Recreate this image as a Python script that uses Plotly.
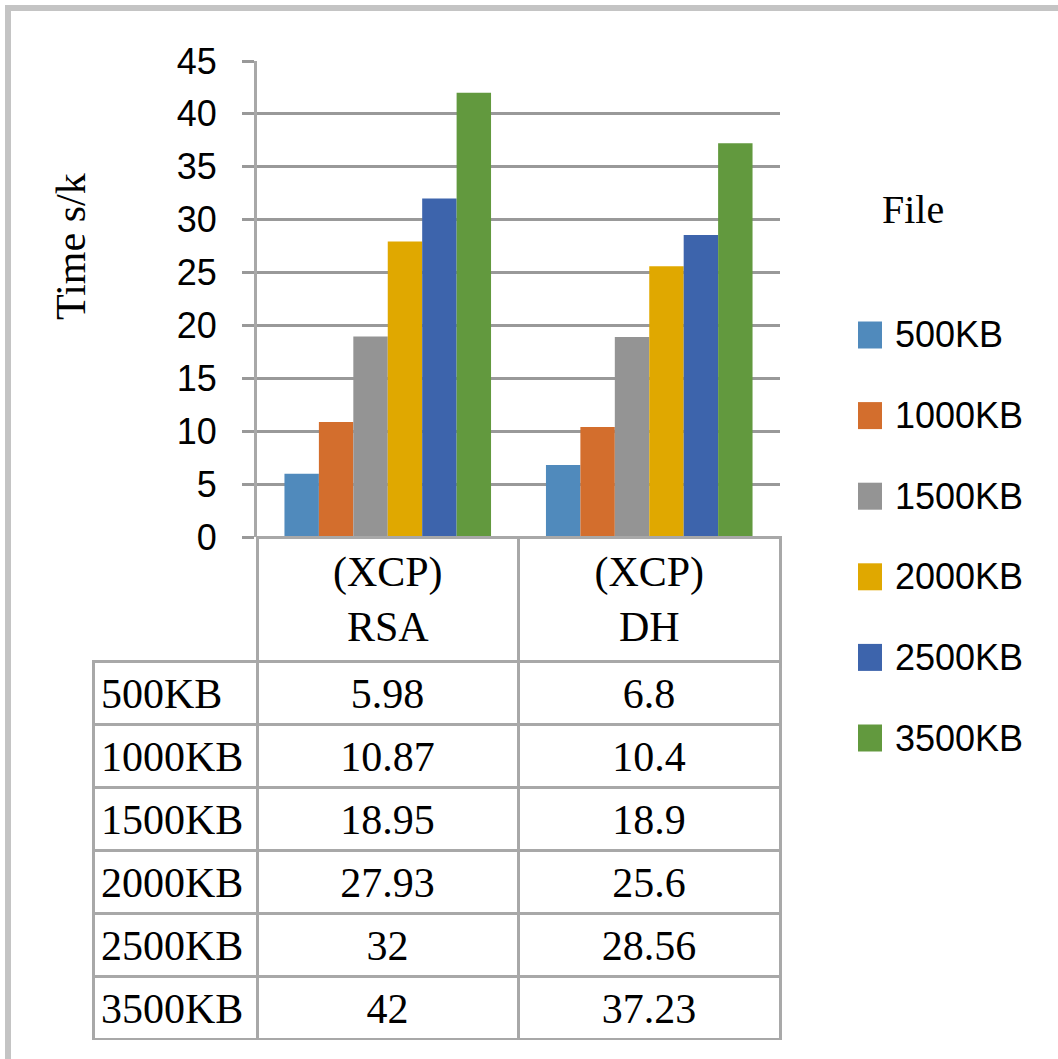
import plotly.graph_objects as go

# ---- data ----
categories = ["(XCP)<br>RSA", "(XCP)<br>DH"]
file_sizes = ["500KB", "1000KB", "1500KB", "2000KB", "2500KB", "3500KB"]
rsa_times = [5.98, 10.87, 18.95, 27.93, 32, 42]
dh_times = [6.8, 10.4, 18.9, 25.6, 28.56, 37.23]
y_ticks = [0, 5, 10, 15, 20, 25, 30, 35, 40, 45]

# ---- styling ----
colors = ["#508abc", "#d36e2d", "#949494", "#e0a800", "#3d64ac", "#62993e"]
W, H = 1058, 1059
GRID = "#999999"
TABLE_LINE = "#a8a8a8"
SERIF = "Liberation Serif, Times New Roman, serif"
SANS = "Liberation Sans, Arial, sans-serif"

TABLE_X = [93, 780]          # left / right edge of the data table (px)
TABLE_TOP, TABLE_BOTTOM = 537, 1041
TEXT_DROP = 7                # pushes cell text down to sit mid-row
COL_WIDTHS = [164, 261, 262]
HEADER_H, ROW_H = 124, 63


def px_x(x):
    return x / W


def px_y(y):
    return (H - y) / H


fig = go.Figure()

for i, size in enumerate(file_sizes):
    fig.add_trace(go.Bar(
        x=categories,
        y=[rsa_times[i], dh_times[i]],
        name=size,
        marker=dict(color=colors[i], line=dict(width=0)),
        showlegend=False,
        xaxis="x", yaxis="y",
    ))

table_values = [file_sizes,
                [f"{v:g}" for v in rsa_times],
                [f"{v:g}" for v in dh_times]]

# table grid underneath the plot area; its header row holds the category
# labels of the x axis, so the header cells stay transparent
fig.add_trace(go.Table(
    domain=dict(x=[px_x(TABLE_X[0]), px_x(TABLE_X[1])],
                y=[px_y(TABLE_BOTTOM), px_y(TABLE_TOP)]),
    columnwidth=COL_WIDTHS,
    header=dict(values=["", "", ""], height=HEADER_H,
                fill=dict(color="rgba(0,0,0,0)"),
                line=dict(color=TABLE_LINE, width=[0, 3, 3])),
    cells=dict(values=[[""] * len(col) for col in table_values],
               height=ROW_H,
               fill=dict(color="white"),
               line=dict(color=TABLE_LINE, width=3)),
))

# table contents, laid over the grid
fig.add_trace(go.Table(
    domain=dict(x=[px_x(TABLE_X[0]), px_x(TABLE_X[1])],
                y=[px_y(TABLE_BOTTOM + TEXT_DROP), px_y(TABLE_TOP + TEXT_DROP)]),
    columnwidth=COL_WIDTHS,
    header=dict(values=["", "", ""], height=HEADER_H,
                fill=dict(color="rgba(0,0,0,0)"),
                line=dict(width=0)),
    cells=dict(values=table_values,
               height=ROW_H,
               align=["left", "center", "center"],
               font=dict(family=SERIF, size=42, color="black"),
               fill=dict(color="rgba(0,0,0,0)"),
               line=dict(width=0)),
))

shapes = [
    # chart frame
    dict(type="rect", xref="paper", yref="paper",
         x0=px_x(8), x1=1.2, y0=-0.2, y1=px_y(8),
         line=dict(color="#c4c4c4", width=6), layer="below"),
]
annotations = [
    dict(text="Time s/k", xref="paper", yref="paper",
         x=px_x(71), y=px_y(247), textangle=-90, showarrow=False,
         xanchor="center", yanchor="middle",
         font=dict(family=SERIF, size=42, color="black")),
    dict(text="File", xref="paper", yref="paper",
         x=px_x(913), y=px_y(210), showarrow=False,
         xanchor="center", yanchor="middle",
         font=dict(family=SERIF, size=40, color="black")),
]

# legend on the right
for i, (size, col) in enumerate(zip(file_sizes, colors)):
    cy = 335 + i * 80.6
    shapes.append(dict(type="rect", xref="paper", yref="paper",
                       x0=px_x(858), x1=px_x(882),
                       y0=px_y(cy + 13.5), y1=px_y(cy - 13.5),
                       fillcolor=col, line=dict(width=0)))
    annotations.append(dict(text=size, xref="paper", yref="paper",
                            x=px_x(893), y=px_y(cy), showarrow=False,
                            xanchor="left", yanchor="middle",
                            font=dict(family=SANS, size=36, color="black")))

fig.update_layout(
    width=W, height=H,
    margin=dict(l=0, r=0, t=0, b=0, autoexpand=False),
    paper_bgcolor="white", plot_bgcolor="white",
    barmode="group", bargap=0.21, bargroupgap=0,
    xaxis=dict(domain=[px_x(257), px_x(780)], automargin=False,
               showticklabels=True, ticks="", ticklabelstandoff=6,
               tickfont=dict(family=SERIF, size=42, color="black"),
               showgrid=False, showline=False, zeroline=False,
               fixedrange=True),
    yaxis=dict(domain=[px_y(537), px_y(61)], range=[0, 45],
               automargin=False,
               tickvals=y_ticks, ticks="outside", ticklen=12,
               tickcolor=GRID, tickwidth=2.5,
               showgrid=True, gridcolor=GRID, gridwidth=2.5,
               zeroline=False, showline=True, linecolor=TABLE_LINE,
               linewidth=3, ticklabelstandoff=18,
               tickfont=dict(family=SANS, size=36, color="black"),
               fixedrange=True),
    shapes=shapes,
    annotations=annotations,
    showlegend=False,
)

fig.write_html("out.html")
